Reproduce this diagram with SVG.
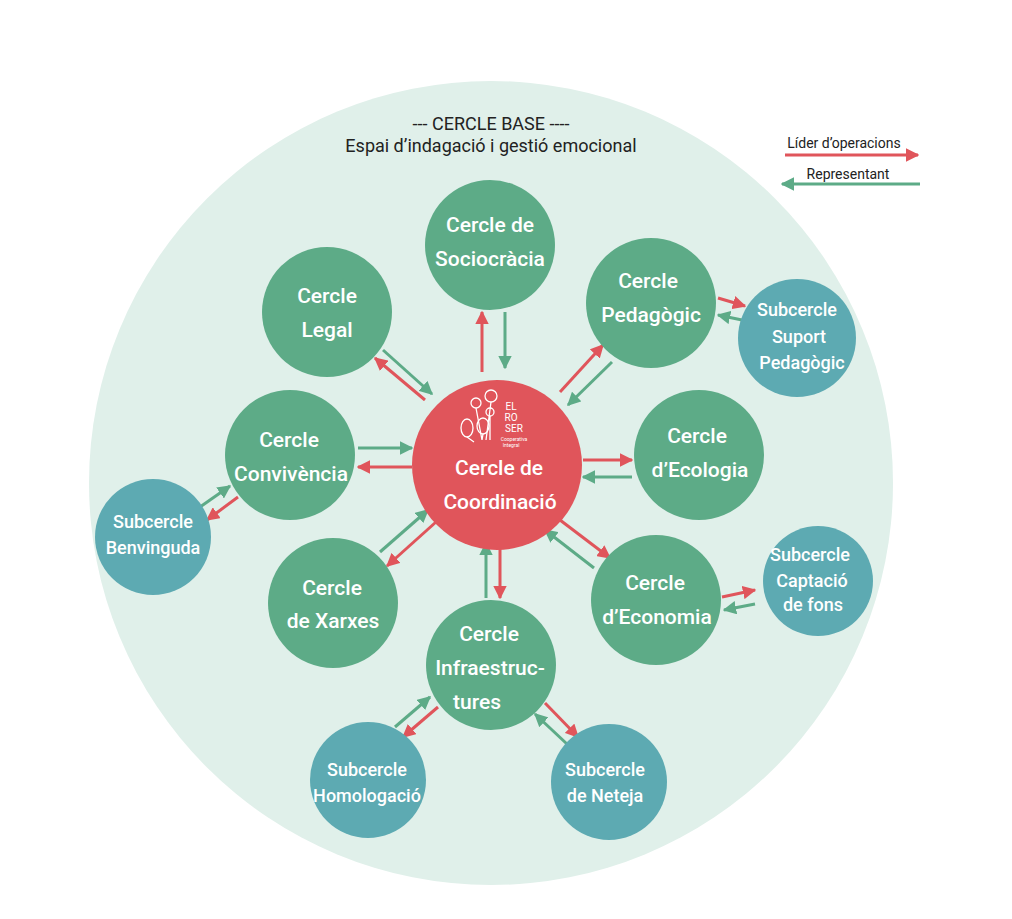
<svg xmlns="http://www.w3.org/2000/svg" width="1012" height="919" viewBox="0 0 1012 919">
<style>
text{font-family:Roboto,"Liberation Sans",sans-serif;text-anchor:middle}
.g{fill:#5dab87}.b{fill:#5daab2}.t{fill:#fff;font-size:21px;font-weight:500}
.s{fill:#fff;font-size:18px;font-weight:500}
.r{stroke:#e0555b;stroke-width:3;fill:none;marker-end:url(#mr)}
.e{stroke:#5dab87;stroke-width:3;fill:none;marker-end:url(#mg)}
.h{fill:#222;font-size:18px}
</style>
<defs>
<marker id="mr" viewBox="0 0 10 10" refX="9" refY="5" markerWidth="4.5" markerHeight="4.5" orient="auto" markerUnits="strokeWidth"><path d="M0,0L10,5L0,10z" fill="#e0555b"/></marker>
<marker id="mg" viewBox="0 0 10 10" refX="9" refY="5" markerWidth="4.5" markerHeight="4.5" orient="auto" markerUnits="strokeWidth"><path d="M0,0L10,5L0,10z" fill="#5dab87"/></marker>
</defs>
<rect width="1012" height="919" fill="#fff"/>
<circle cx="491" cy="483" r="402" fill="#e0f0ea"/>
<text x="491" y="130" class="h">--- CERCLE BASE ----</text>
<text x="491" y="152" class="h">Espai d’indagació i gestió emocional</text>
<g id="legend">
<text x="844" y="148" style="font-size:14px;fill:#222">Líder d’operacions</text>
<line x1="785" y1="155" x2="918" y2="155" class="r"/>
<text x="848" y="179" style="font-size:14px;fill:#222">Representant</text>
<line x1="920" y1="184" x2="782" y2="184" class="e"/>
</g>
<g id="connectors">
<line x1="482" y1="372" x2="482" y2="312" class="r"/><line x1="505" y1="312" x2="505" y2="368" class="e"/>
<line x1="425" y1="400" x2="375" y2="358" class="r"/><line x1="383" y1="350" x2="432" y2="394" class="e"/>
<line x1="560" y1="392" x2="603" y2="345" class="r"/><line x1="612" y1="362" x2="568" y2="405" class="e"/>
<line x1="358" y1="448" x2="412" y2="448" class="e"/><line x1="412" y1="467" x2="358" y2="467" class="r"/>
<line x1="583" y1="460" x2="632" y2="460" class="r"/><line x1="632" y1="477" x2="583" y2="477" class="e"/>
<line x1="436" y1="522" x2="387" y2="566" class="r"/><line x1="380" y1="552" x2="428" y2="510" class="e"/>
<line x1="560" y1="520" x2="610" y2="558" class="r"/><line x1="594" y1="568" x2="545" y2="530" class="e"/>
<line x1="486" y1="598" x2="486" y2="543" class="e"/><line x1="500" y1="543" x2="500" y2="598" class="r"/>
<line x1="718" y1="298" x2="745" y2="306" class="r"/><line x1="742" y1="320" x2="718" y2="315" class="e"/>
<line x1="200" y1="507" x2="230" y2="486" class="e"/><line x1="238" y1="497" x2="207" y2="520" class="r"/>
<line x1="722" y1="597" x2="755" y2="590" class="r"/><line x1="755" y1="604" x2="724" y2="610" class="e"/>
<line x1="395" y1="727" x2="430" y2="697" class="e"/><line x1="438" y1="707" x2="403" y2="737" class="r"/>
<line x1="545" y1="703" x2="578" y2="737" class="r"/><line x1="567" y1="744" x2="535" y2="714" class="e"/>
</g>
<g id="sociocracia"><circle cx="490" cy="245" r="65" class="g"/><text x="490" y="232" class="t">Cercle de</text><text x="490" y="266" class="t">Sociocràcia</text></g>
<g id="legal"><circle cx="327" cy="312" r="65" class="g"/><text x="327" y="303" class="t">Cercle</text><text x="327" y="337" class="t">Legal</text></g>
<g id="pedagogic"><circle cx="651" cy="303" r="65" class="g"/><text x="648" y="288" class="t">Cercle</text><text x="651" y="322" class="t">Pedagògic</text></g>
<g id="suport"><circle cx="797" cy="338" r="59" class="b"/><text x="797" y="316" class="s">Subcercle</text><text x="799" y="343" class="s">Suport</text><text x="802" y="369" class="s">Pedagògic</text></g>
<g id="convivencia"><circle cx="290" cy="455" r="65" class="g"/><text x="289" y="447" class="t">Cercle</text><text x="291" y="481" class="t">Convivència</text></g>
<g id="ecologia"><circle cx="699" cy="455" r="65" class="g"/><text x="697" y="443" class="t">Cercle</text><text x="700" y="477" class="t">d’Ecologia</text></g>
<g id="benvinguda"><circle cx="153" cy="537" r="58" class="b"/><text x="153" y="528" class="s">Subcercle</text><text x="153" y="554" class="s">Benvinguda</text></g>
<g id="xarxes"><circle cx="333" cy="603" r="65" class="g"/><text x="332" y="595" class="t">Cercle</text><text x="333" y="628" class="t">de Xarxes</text></g>
<g id="economia"><circle cx="656" cy="600" r="65" class="g"/><text x="655" y="590" class="t">Cercle</text><text x="657" y="624" class="t">d’Economia</text></g>
<g id="captacio"><circle cx="818" cy="581" r="55" class="b"/><text x="810" y="561" class="s">Subcercle</text><text x="812" y="587" class="s">Captació</text><text x="813" y="611" class="s">de fons</text></g>
<g id="infraestructures"><circle cx="491" cy="665" r="65" class="g"/><text x="489" y="641" class="t">Cercle</text><text x="490" y="675" class="t">Infraestruc-</text><text x="477" y="709" class="t">tures</text></g>
<g id="homologacio"><circle cx="368" cy="780" r="58" class="b"/><text x="367" y="776" class="s">Subcercle</text><text x="367" y="802" class="s">Homologació</text></g>
<g id="neteja"><circle cx="609" cy="782" r="58" class="b"/><text x="605" y="776" class="s">Subcercle</text><text x="605" y="802" class="s">de Neteja</text></g>
<g id="coordinacio"><circle cx="497" cy="465" r="85" fill="#e0555b"/>
<g fill="none" stroke="#fff" stroke-width="1.3">
<circle cx="476" cy="403" r="5"/><circle cx="491" cy="396" r="6"/><ellipse cx="467" cy="428" rx="6" ry="9"/><ellipse cx="483" cy="426" rx="6" ry="8"/><circle cx="490" cy="412" r="4"/>
<path d="M476 408L482 440M491 402L486 440M467 437L474 442M483 434L482 440M490 416L490 440"/></g>
<text x="511" y="410" style="fill:#fff;font-size:10px">EL</text><text x="511" y="421" style="fill:#fff;font-size:10px">RO</text><text x="514" y="432" style="fill:#fff;font-size:10px">SER</text>
<text x="514" y="441" style="fill:#fff;font-size:5px">Cooperativa</text><text x="511" y="447" style="fill:#fff;font-size:5px">Integral</text>
<text x="499" y="475" class="t">Cercle de</text><text x="500" y="509" class="t">Coordinació</text></g>
</svg>
